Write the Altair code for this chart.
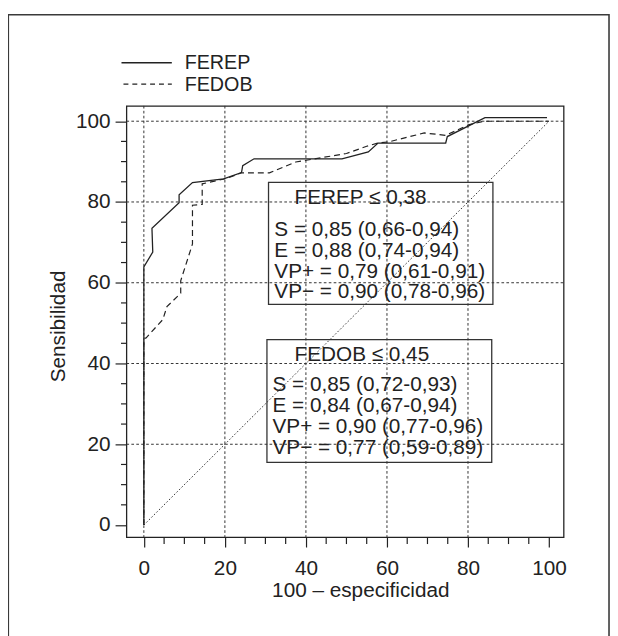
import altair as alt
import pandas as pd

# ---------------- data ----------------
series_names = ["FEREP", "FEDOB"]

ferep_x = [0, 0, 2.2, 2.0, 8.7, 8.7, 12.0, 19.7, 24.1, 24.4, 27.2, 48.9, 55.4, 57.8, 74.5, 74.9, 84.2, 99.5]
ferep_y = [0, 63.9, 67.6, 73.5, 79.8, 81.8, 84.8, 85.7, 87.3, 89.0, 90.7, 90.7, 92.4, 94.6, 94.6, 96.2, 100.9, 100.9]

fedob_x = [0, 0, 0.5, 4.7, 5.7, 9.1, 9.1, 12.0, 12.0, 14.4, 14.4, 20.3, 24.0, 31.0, 37.5, 44.0, 50.0,
           55.0, 57.8, 60.5, 69.2, 74.5, 80.1, 84.0, 100]
fedob_y = [0, 46.3, 46.3, 50.9, 54.1, 57.4, 60.5, 69.6, 79.2, 79.4, 84.5, 85.8, 87.2, 87.2, 89.9, 91.0, 92.0,
           93.8, 94.6, 94.9, 97.1, 96.5, 99.1, 100, 100]

diag_x = [0, 100]
diag_y = [0, 100]

x_ticks = [0, 20, 40, 60, 80, 100]
y_ticks = [0, 20, 40, 60, 80, 100]
x_minor = [5, 10, 15, 25, 30, 35, 45, 50, 55, 65, 70, 75, 85, 90, 95]
y_minor = [5, 10, 15, 25, 30, 35, 45, 50, 55, 65, 70, 75, 85, 90, 95]
x_grid = [0, 20, 40, 60, 80]
y_grid = [20, 40, 60, 80, 100]

ferep_title = "FEREP \u2264 0,38"
ferep_stats = ["S = 0,85 (0,66-0,94)", "E = 0,88 (0,74-0,94)",
               "VP+ = 0,79 (0,61-0,91)", "VP\u2212 = 0,90 (0,78-0,96)"]
fedob_title = "FEDOB \u2264 0,45"
fedob_stats = ["S = 0,85 (0,72-0,93)", "E = 0,84 (0,67-0,94)",
               "VP+ = 0,90 (0,77-0,96)", "VP\u2212 = 0,77 (0,59-0,89)"]

x_title = "100 \u2013 especificidad"
y_title = "Sensibilidad"

# ---------------- styling ----------------
FONT = "Liberation Sans"
INK = "#222222"
FS = 21
FS_BOX = 21
FS_LEG = 20
W, H = 443, 437

xscale = alt.Scale(domain=[-4.3, 103.6], nice=False, zero=False)
yscale = alt.Scale(domain=[-3.0, 103.8], nice=False, zero=False)

df_ferep = pd.DataFrame({"x": ferep_x, "y": ferep_y, "i": range(len(ferep_x))})
df_fedob = pd.DataFrame({"x": fedob_x, "y": fedob_y, "i": range(len(fedob_x))})
df_diag = pd.DataFrame({"x": diag_x, "y": diag_y})
df_xgrid = pd.DataFrame({"x": x_grid})
df_ygrid = pd.DataFrame({"y": y_grid})
df_xminor = pd.DataFrame({"x": x_minor})
df_yminor = pd.DataFrame({"y": y_minor})
one = pd.DataFrame({"a": [0]})

xaxis = alt.Axis(values=x_ticks, title=x_title, grid=False, domain=False,
                 tickSize=10, tickColor=INK, tickWidth=1.2,
                 labelFontSize=FS, labelFont=FONT, labelColor=INK, labelPadding=11,
                 labelFlush=False, labelOverlap=False, format="d",
                 titleFontSize=FS, titleFont=FONT, titleFontWeight="normal", titleColor=INK,
                 titleX=237, titleY=54, titleBaseline="middle", titleAlign="center")
yaxis = alt.Axis(values=y_ticks, title=y_title, grid=False, domain=False,
                 tickSize=11.5, tickColor=INK, tickWidth=1.2,
                 labelFontSize=FS, labelFont=FONT, labelColor=INK, labelPadding=5,
                 labelFlush=False, labelOverlap=False, format="d",
                 titleFontSize=FS, titleFont=FONT, titleFontWeight="normal", titleColor=INK,
                 titleX=-69, titleY=223, titleBaseline="middle", titleAlign="center", titleAngle=-90)


def X(field):
    return alt.X(field, scale=xscale, axis=xaxis, title=x_title)


def Y(field):
    return alt.Y(field, scale=yscale, axis=yaxis, title=y_title)


def XD(v):
    return alt.XDatum(v, scale=xscale, axis=xaxis, title=x_title)


def YD(v):
    return alt.YDatum(v, scale=yscale, axis=yaxis, title=y_title)


GRID_DASH = [2.7, 2.3]

xgrid = alt.Chart(df_xgrid).mark_rule(color="#333", strokeWidth=1, strokeDash=GRID_DASH).encode(
    x=X("x:Q"), y=alt.value(0), y2=alt.value(H))
ygrid = alt.Chart(df_ygrid).mark_rule(color="#333", strokeWidth=1, strokeDash=GRID_DASH).encode(
    y=Y("y:Q"), x=alt.value(0), x2=alt.value(W))

xminor = alt.Chart(df_xminor).mark_rule(color=INK, strokeWidth=1.2).encode(
    x=X("x:Q"), y=alt.value(H + 0.5), y2=alt.value(H + 7))
yminor = alt.Chart(df_yminor).mark_rule(color=INK, strokeWidth=1.2).encode(
    y=Y("y:Q"), x=alt.value(-5.5), x2=alt.value(0))

diag = alt.Chart(df_diag).mark_line(color="#333", strokeWidth=1, strokeDash=[1.6, 2]).encode(
    x=X("x:Q"), y=Y("y:Q"))

fedob = alt.Chart(df_fedob).mark_line(color=INK, strokeWidth=1.2, strokeDash=[6, 4]).encode(
    x=X("x:Q"), y=Y("y:Q"), order="i:Q")
ferep = alt.Chart(df_ferep).mark_line(color=INK, strokeWidth=1.3).encode(
    x=X("x:Q"), y=Y("y:Q"), order="i:Q")


def box(x1, x2, y1, y2):
    return alt.Chart(one).mark_rect(fillOpacity=0, stroke="#333", strokeWidth=1.3).encode(
        x=XD(x1), x2=alt.X2Datum(x2), y=YD(y1), y2=alt.Y2Datum(y2))


def label(x, y, txt, baseline="middle"):
    return alt.Chart(one).mark_text(align="left", baseline=baseline, font=FONT, fontSize=FS_BOX,
                                    color=INK, lineHeight=21.2).encode(
        x=XD(x), y=YD(y), text=alt.value(txt))


box1 = box(30.77, 86.15, 84.86, 54.63)
box2 = box(30.38, 85.86, 45.9, 15.5)
t1 = label(37.2, 80.9, ferep_title)
s1 = label(32.2, 75.8, ferep_stats, baseline="top")
t2 = label(37.2, 42.0, fedob_title)
s2 = label(31.75, 37.3, fedob_stats, baseline="top")

# legend (drawn above the plot area)
leg_solid = alt.Chart(one).mark_rule(color=INK, strokeWidth=1.3).encode(
    x=alt.value(-5), x2=alt.value(46), y=alt.value(-43.7))
leg_dash = alt.Chart(one).mark_rule(color=INK, strokeWidth=1.2, strokeDash=[5, 4]).encode(
    x=alt.value(-3), x2=alt.value(46), y=alt.value(-22))
leg_t1 = alt.Chart(one).mark_text(align="left", baseline="middle", font=FONT, fontSize=FS_LEG, color=INK).encode(
    x=alt.value(59), y=alt.value(-43.5), text=alt.value(series_names[0]))
leg_t2 = alt.Chart(one).mark_text(align="left", baseline="middle", font=FONT, fontSize=FS_LEG, color=INK).encode(
    x=alt.value(59), y=alt.value(-21.5), text=alt.value(series_names[1]))

# outer frame of the figure
frame = alt.Chart(one).mark_rect(fillOpacity=0, stroke="#3a3a3a", strokeWidth=1.6).encode(
    x=alt.value(-119.7), x2=alt.value(489), y=alt.value(-92.3), y2=alt.value(545))

chart = alt.layer(
    xgrid, ygrid, xminor, yminor, diag, box1, box2, t1, s1, t2, s2,
    fedob, ferep, leg_solid, leg_dash, leg_t1, leg_t2, frame
).properties(
    width=W, height=H,
    autosize=alt.AutoSizeParams(type="none"),
    padding={"left": 120, "top": 95, "right": 47, "bottom": 96},
    background="white",
).configure_view(stroke="#222", strokeWidth=1.3)

chart.save("out.html", embed_options={"renderer": "svg", "actions": False})
